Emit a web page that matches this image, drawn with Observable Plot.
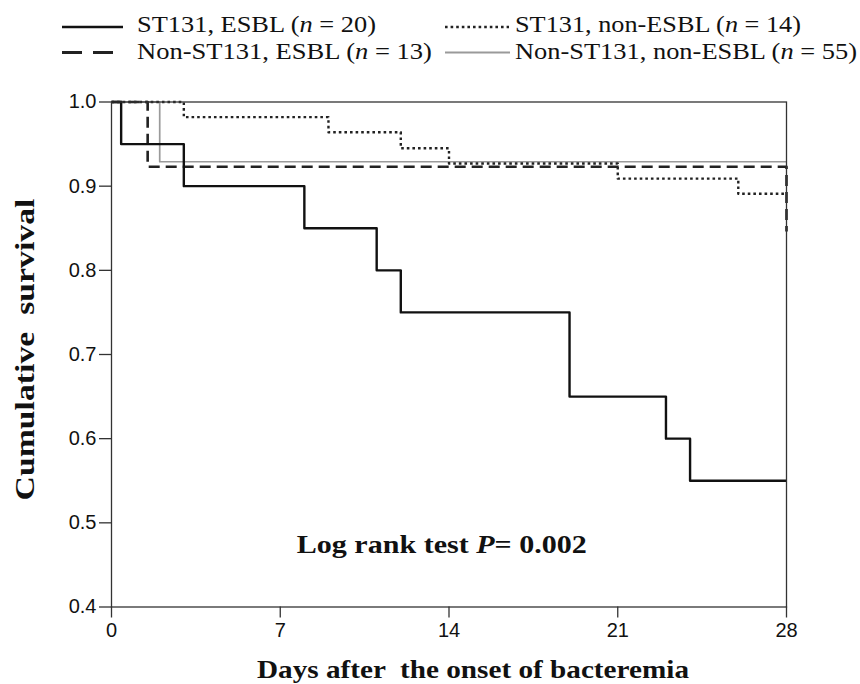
<!DOCTYPE html>
<html><head><meta charset="utf-8">
<script src="https://cdn.jsdelivr.net/npm/d3@7"></script>
<script src="https://cdn.jsdelivr.net/npm/@observablehq/plot@0.6"></script>
<style>
body{margin:0;background:#fff;}
svg{display:block}
</style></head><body>
<div id="chart"></div>
<script>
// ---- data ----
const seriesNames = ["ST131, ESBL", "ST131, non-ESBL", "Non-ST131, ESBL", "Non-ST131, non-ESBL"];
const seriesN = [20, 14, 13, 55];
const st131EsblDays = [0, 0.4, 3, 8, 11, 12, 19, 23, 24, 28];
const st131EsblSurv = [1, 0.95, 0.90, 0.85, 0.80, 0.75, 0.65, 0.60, 0.55, 0.55];
const st131NonEsblDays = [0, 3, 9, 12, 14, 21, 26, 28];
const st131NonEsblSurv = [1, 0.982, 0.964, 0.945, 0.927, 0.909, 0.891, 0.891];
const nonSt131EsblDays = [0, 1.5, 28, 28];
const nonSt131EsblSurv = [1, 0.923, 0.923, 0.846];
const nonSt131NonEsblDays = [0, 2, 28];
const nonSt131NonEsblSurv = [1, 0.929, 0.929];
const xTicks = [0, 7, 14, 21, 28];
const yTicks = [0.4, 0.5, 0.6, 0.7, 0.8, 0.9, 1.0];
const xTitle = "Days after  the onset of bacteremia";
const yTitle = "Cumulative  survival";
const annotation = {day: 13.7, surv: 0.4636, pre: "Log rank test ", it: "P", post: "= 0.002"};

// ---- styles ----
const SERIF = "'Liberation Serif','Times New Roman',serif";
const SANS = "'Liberation Sans',Arial,sans-serif";
const styles = {
  "ST131, ESBL": {stroke: "#111", width: 2.4, dash: null, legDash: null},
  "ST131, non-ESBL": {stroke: "#222", width: 2.4, dash: "2.6,3", legDash: "2.6,3"},
  "Non-ST131, ESBL": {stroke: "#222", width: 2.6, dash: "11,6", legDash: "20,11"},
  "Non-ST131, non-ESBL": {stroke: "#9a9a9a", width: 1.7, dash: null, legDash: null}
};

function toRows(days, surv, name) { return days.map((d, i) => ({day: d, surv: surv[i], name})); }
const curves = {
  "ST131, ESBL": toRows(st131EsblDays, st131EsblSurv, seriesNames[0]),
  "ST131, non-ESBL": toRows(st131NonEsblDays, st131NonEsblSurv, seriesNames[1]),
  "Non-ST131, ESBL": toRows(nonSt131EsblDays, nonSt131EsblSurv, seriesNames[2]),
  "Non-ST131, non-ESBL": toRows(nonSt131NonEsblDays, nonSt131NonEsblSurv, seriesNames[3])
};

// ---- legend (above the plot) ----
const legendH = 70;
const leg = d3.create("svg").attr("width", 860).attr("height", legendH)
  .attr("font-family", SERIF).attr("font-size", 23);
document.getElementById("chart").appendChild(leg.node());
const legendLayout = [
  {name: seriesNames[0], n: seriesN[0], x1: 62, x2: 123, tx: 137, ly: 27, ty: 31.5, len: 239},
  {name: seriesNames[1], n: seriesN[1], x1: 445, x2: 509, tx: 515, ly: 27, ty: 31.5, len: 286},
  {name: seriesNames[2], n: seriesN[2], x1: 62, x2: 123, tx: 137, ly: 52.5, ty: 58.5, len: 295},
  {name: seriesNames[3], n: seriesN[3], x1: 445, x2: 510, tx: 515, ly: 52.5, ty: 58.5, len: 342}
];
for (const L of legendLayout) {
  const s = styles[L.name];
  leg.append("line").attr("x1", L.x1).attr("x2", L.x2).attr("y1", L.ly).attr("y2", L.ly)
    .attr("stroke", s.stroke).attr("stroke-width", s.width + 0.3)
    .attr("stroke-dasharray", s.legDash);
  const g = leg.append("g");
  const pieces = [[L.name + " (", "normal"], ["n", "italic"], [" = " + L.n + ")", "normal"]];
  let x = 0;
  for (const [str, st] of pieces) {
    const t = g.append("text").attr("x", x).attr("y", 0).attr("fill", "#111")
      .attr("font-style", st).attr("xml:space", "preserve").style("white-space", "pre").text(str);
    x += t.node().getComputedTextLength();
  }
  g.attr("transform", `translate(${L.tx},${L.ty}) scale(${(L.len / x).toFixed(4)},1)`);
}

// ---- plot ----
const order = ["Non-ST131, non-ESBL", "ST131, non-ESBL", "Non-ST131, ESBL", "ST131, ESBL"];
const plot = Plot.plot({
  width: 860,
  height: 614,
  marginLeft: 111,
  marginRight: 74,
  marginTop: 31.5,
  marginBottom: 77.5,
  style: {fontFamily: SANS, fontSize: "20px", color: "#111", background: "#fff"},
  x: {domain: [0, 28]},
  y: {domain: [0.4, 1.0]},
  marks: [
    ...order.map(k => Plot.line(curves[k], {
      x: "day", y: "surv", curve: "step-after",
      stroke: styles[k].stroke, strokeWidth: styles[k].width,
      strokeDasharray: styles[k].dash, strokeLinecap: "butt"
    })),
    Plot.frame({stroke: "#333", strokeWidth: 1.3}),
    Plot.axisX({ticks: xTicks, tickSize: 11, tickPadding: 5, tickFormat: d3.format("d"),
      fontSize: 20, stroke: "#333", strokeWidth: 1.3, label: null}),
    Plot.axisY({ticks: yTicks, tickSize: 12, tickPadding: 3, tickFormat: d3.format(".1f"),
      fontSize: 20, stroke: "#333", strokeWidth: 1.3, label: null}),
    Plot.text([xTitle], {frameAnchor: "bottom", text: d => d, dx: 24, dy: 70.5, lineAnchor: "bottom",
      fontFamily: SERIF, fontWeight: "bold", fontSize: 26, fill: "#111"}),
    Plot.text([yTitle], {frameAnchor: "left", text: d => d, rotate: -90, dx: -78, dy: 146, lineAnchor: "bottom",
      textAnchor: "start", fontFamily: SERIF, fontWeight: "bold", fontSize: 27, fill: "#111"}),
    Plot.text([annotation], {x: "day", y: "surv", text: d => d.pre + d.it + d.post, lineAnchor: "bottom",
      fontFamily: SERIF, fontWeight: "bold", fontSize: 26, fill: "#111"})
  ]
});
document.getElementById("chart").appendChild(plot);

// rich text and horizontal stretch of the titles
d3.select(plot).selectAll("text").each(function () {
  const el = d3.select(this);
  const txt = this.textContent;
  if (txt === xTitle) {
    el.attr("xml:space", "preserve").style("white-space", "pre").attr("textLength", 432).attr("lengthAdjust", "spacingAndGlyphs");
  } else if (txt === yTitle) {
    el.attr("xml:space", "preserve").style("white-space", "pre").attr("textLength", 302).attr("lengthAdjust", "spacingAndGlyphs");
  } else if (txt === annotation.pre + annotation.it + annotation.post) {
    el.text(null);
    el.append("tspan").attr("xml:space", "preserve").style("white-space", "pre").text(annotation.pre);
    el.append("tspan").attr("font-style", "italic").text(annotation.it);
    el.append("tspan").text(annotation.post);
    el.attr("textLength", 290).attr("lengthAdjust", "spacingAndGlyphs");
  }
});
</script>
</body></html>
